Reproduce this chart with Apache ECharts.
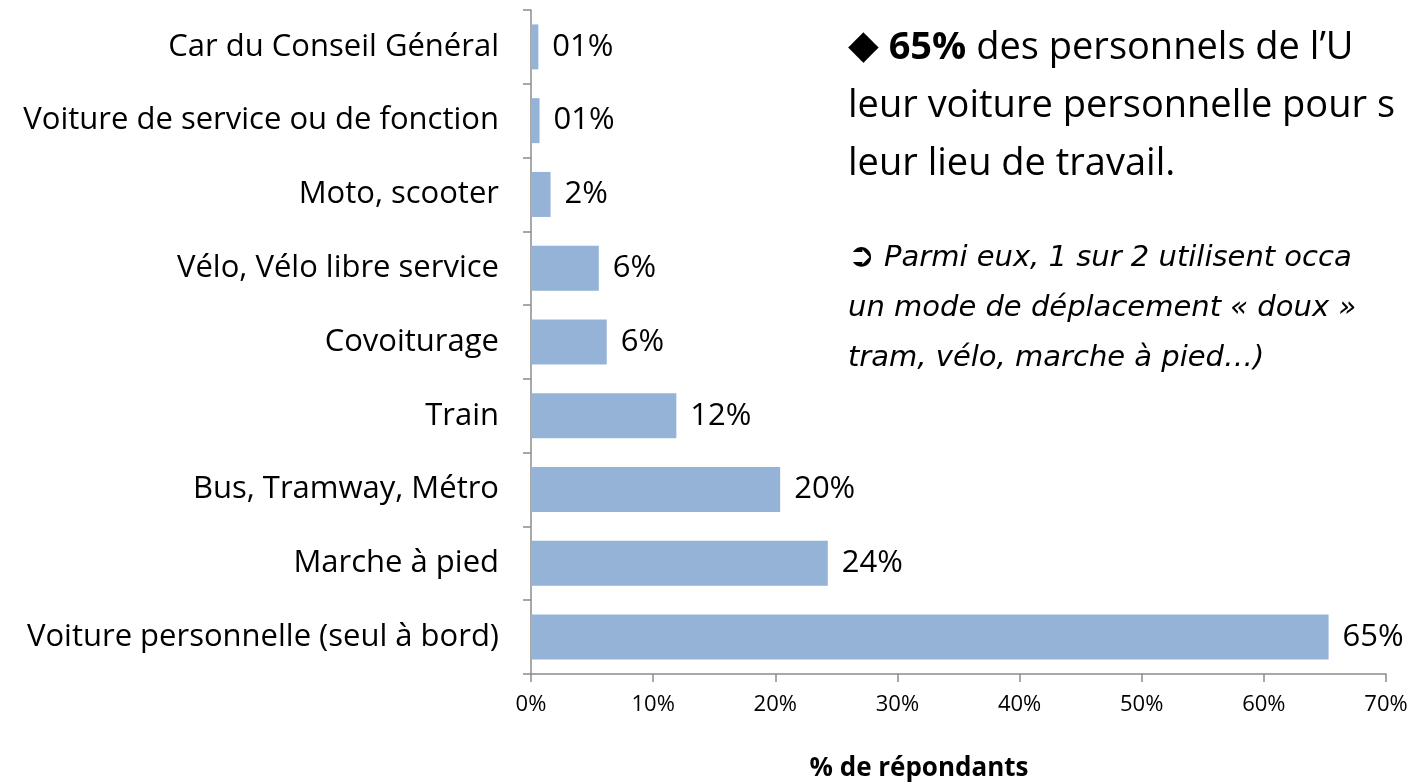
<!DOCTYPE html>
<html>
<head>
<meta charset="utf-8">
<script src="https://cdn.jsdelivr.net/npm/echarts@6/dist/echarts.min.js"></script>
<style>
  html, body { margin: 0; padding: 0; background: #fff; }
  #chart { width: 1421px; height: 782px; }
</style>
</head>
<body>
<div id="chart"></div>
<script>
// categories listed bottom -> top (ECharts category y axis starts at the bottom)
const categories = [
    'Voiture personnelle (seul à bord)',
    'Marche à pied',
    'Bus, Tramway, Métro',
    'Train',
    'Covoiturage',
    'Vélo, Vélo libre service',
    'Moto, scooter',
    'Voiture de service ou de fonction',
    'Car du Conseil Général'
];
const shares = [65.3, 24.3, 20.4, 11.9, 6.2, 5.55, 1.6, 0.7, 0.6];
const shareLabels = ['65%', '24%', '20%', '12%', '6%', '6%', '2%', '01%', '01%'];
const xTicks = [0, 10, 20, 30, 40, 50, 60, 70];

const FONT = '"Open Sans", Lato, sans-serif';

const chart = echarts.init(document.getElementById('chart'));

const options = {
    animation: false,
    backgroundColor: '#ffffff',
    grid: {
        left: 531,
        right: 35,
        top: 10,
        bottom: 108
    },
    xAxis: {
        type: 'value',
        min: xTicks[0],
        max: xTicks[xTicks.length - 1],
        interval: 10,
        axisLine: { show: true, lineStyle: { color: '#8c8c8c', width: 1.5 } },
        axisTick: { show: true, length: 8, lineStyle: { color: '#8c8c8c', width: 1.5 } },
        splitLine: { show: false },
        axisLabel: {
            formatter: v => v + '%',
            color: '#000',
            fontFamily: FONT,
            fontSize: 22,
            margin: 20
        }
    },
    yAxis: {
        type: 'category',
        data: categories,
        axisLine: { show: true, lineStyle: { color: '#8c8c8c', width: 1.5 } },
        axisTick: { show: true, length: 8, lineStyle: { color: '#8c8c8c', width: 1.5 } },
        axisLabel: {
            color: '#000',
            fontFamily: FONT,
            fontSize: 31,
            margin: 32
        }
    },
    series: [{
        type: 'bar',
        data: shares,
        barCategoryGap: '39%',
        itemStyle: { color: '#95b3d7' },
        label: {
            show: true,
            position: 'right',
            distance: 14,
            color: '#000',
            fontFamily: FONT,
            fontSize: 31,
            formatter: p => shareLabels[p.dataIndex]
        }
    }],
    graphic: [
        {
            type: 'text',
            x: 919,
            y: 769,
            style: {
                text: '% de répondants',
                fontFamily: FONT,
                fontWeight: 'bold',
                fontSize: 26,
                fill: '#000',
                align: 'center',
                verticalAlign: 'middle'
            }
        },
        {
            type: 'text',
            left: 848,
            top: 19,
            style: {
                text: '{d|◆} {b|65%} des personnels de l’U\nleur voiture personnelle pour s\nleur lieu de travail.',
                fontFamily: FONT,
                fontSize: 38,
                lineHeight: 58,
                fill: '#000',
                rich: {
                    d: { fontSize: 40, fontFamily: '"DejaVu Sans"' },
                    b: { fontSize: 38, fontWeight: 'bold', fontFamily: FONT }
                }
            }
        },
        {
            type: 'text',
            left: 848,
            top: 233,
            style: {
                text: '{a|➲} Parmi eux, 1 sur 2 utilisent occa\nun mode de déplacement « doux »\ntram, vélo, marche à pied…)',
                fontFamily: '"DejaVu Sans", sans-serif',
                fontStyle: 'italic',
                fontSize: 29,
                lineHeight: 50,
                fill: '#000',
                rich: {
                    a: { fontSize: 32, fontStyle: 'normal', fontFamily: '"DejaVu Sans"' }
                }
            }
        }
    ]
};

chart.setOption(options);
</script>
</body>
</html>
